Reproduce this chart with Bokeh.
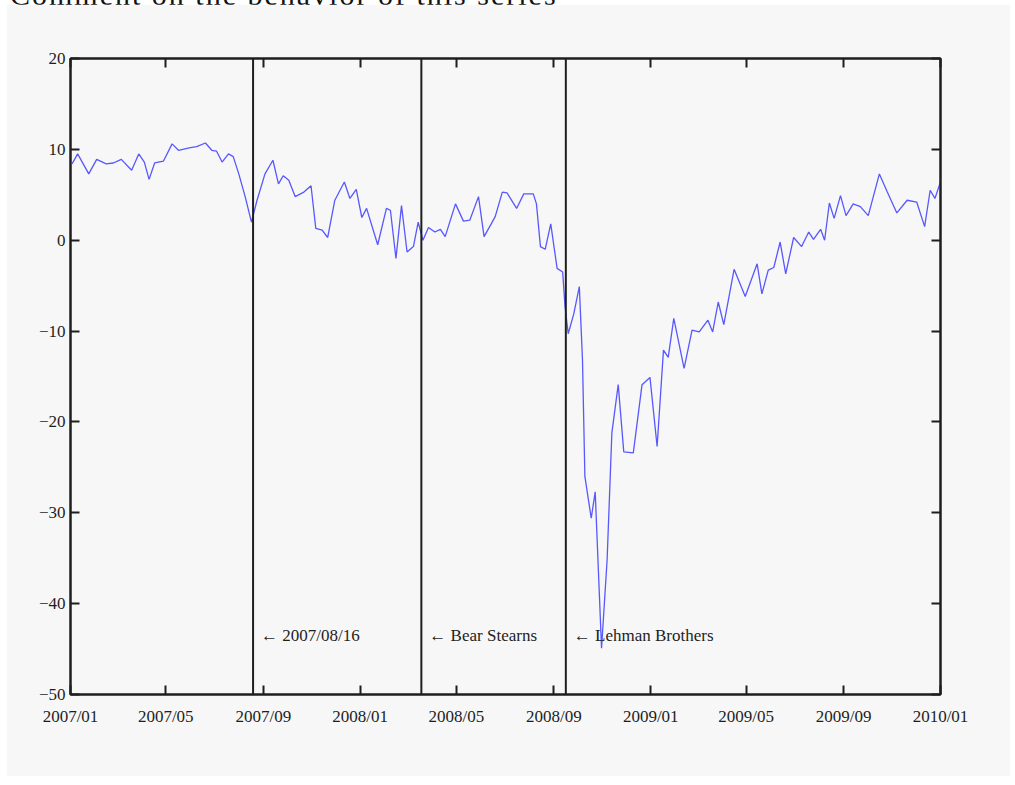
import pandas as pd
from bokeh.plotting import figure
from bokeh.models import (Range1d, FixedTicker, LinearAxis, DatetimeAxis, Span, Div,
                          ColumnDataSource, DatetimeTickFormatter)
from bokeh.layouts import column
from bokeh.core.properties import value
from bokeh.embed import file_html
from bokeh.resources import INLINE

# ---------------- data ----------------
dates = [
    "2007-01-03", "2007-01-10", "2007-01-24", "2007-02-03", "2007-02-15", "2007-02-24", "2007-03-06",
    "2007-03-19", "2007-03-28", "2007-04-04", "2007-04-10", "2007-04-17", "2007-04-28", "2007-05-09",
    "2007-05-17", "2007-06-01", "2007-06-09", "2007-06-20", "2007-06-28", "2007-07-04", "2007-07-11",
    "2007-07-19", "2007-07-25", "2007-08-01", "2007-08-09", "2007-08-17", "2007-08-24",
    "2007-09-03", "2007-09-13", "2007-09-20", "2007-09-26", "2007-10-03", "2007-10-11", "2007-10-22",
    "2007-10-31", "2007-11-06", "2007-11-14", "2007-11-21", "2007-11-30", "2007-12-12", "2007-12-19",
    "2007-12-27", "2008-01-03", "2008-01-09", "2008-01-23", "2008-02-03", "2008-02-08", "2008-02-15",
    "2008-02-22", "2008-02-29", "2008-03-08", "2008-03-14", "2008-03-20",
    "2008-03-27", "2008-04-04", "2008-04-11", "2008-04-17", "2008-04-30", "2008-05-10", "2008-05-18",
    "2008-05-29", "2008-06-05", "2008-06-14", "2008-06-19", "2008-06-28", "2008-07-04", "2008-07-16",
    "2008-07-25", "2008-08-06", "2008-08-10", "2008-08-15", "2008-08-21", "2008-08-28", "2008-09-05",
    "2008-09-12", "2008-09-15", "2008-09-19", "2008-09-26", "2008-10-03", "2008-10-07", "2008-10-10",
    "2008-10-18", "2008-10-23", "2008-10-31", "2008-11-07", "2008-11-13", "2008-11-21", "2008-11-28",
    "2008-12-10", "2008-12-21", "2008-12-31",
    "2009-01-09", "2009-01-17", "2009-01-23", "2009-01-30", "2009-02-12", "2009-02-22", "2009-03-03",
    "2009-03-14", "2009-03-20", "2009-03-27", "2009-04-03", "2009-04-16", "2009-04-30", "2009-05-15",
    "2009-05-21", "2009-05-29", "2009-06-05", "2009-06-13", "2009-06-20", "2009-06-30",
    "2009-07-10", "2009-07-19", "2009-07-25", "2009-08-03", "2009-08-08", "2009-08-14", "2009-08-20",
    "2009-08-28", "2009-09-04", "2009-09-13", "2009-09-22", "2009-10-02", "2009-10-16", "2009-10-26",
    "2009-11-07", "2009-11-20", "2009-12-02", "2009-12-12", "2009-12-19", "2009-12-25", "2010-01-01",
]
values = [
    8.4, 9.5, 7.3, 8.9, 8.4, 8.5, 8.9, 7.7, 9.5, 8.6, 6.7, 8.5, 8.7, 10.6, 9.9, 10.2, 10.3, 10.7, 9.9,
    9.8, 8.6, 9.5, 9.2, 7.3, 4.8, 2.0, 4.4,
    7.3, 8.8, 6.2, 7.1, 6.6, 4.8, 5.3, 6.0, 1.3, 1.1, 0.3, 4.4, 6.4, 4.6, 5.6,
    2.5, 3.5, -0.5, 3.5, 3.3, -2.0, 3.8, -1.3, -0.7, 2.0, 0.0,
    1.4, 0.9, 1.2, 0.4, 4.0, 2.1, 2.2, 4.8, 0.4, 1.8, 2.6, 5.3, 5.2, 3.5, 5.1, 5.1, 4.0, -0.7, -1.0,
    1.8, -3.1, -3.5, -7.3, -10.3, -8.1,
    -5.1, -13.2, -26.0, -30.6, -27.7, -44.9, -35.2, -21.2, -15.9, -23.3, -23.4, -15.9, -15.1,
    -22.7, -12.1, -12.9, -8.6, -14.1, -9.9, -10.1, -8.8, -10.1, -6.8, -9.3, -3.2, -6.2, -2.6, -5.9,
    -3.3, -3.0, -0.2, -3.7, 0.3,
    -0.7, 0.9, 0.1, 1.2, 0.0, 4.1, 2.4, 4.9, 2.7, 4.0, 3.7, 2.7, 7.3, 5.3, 3.0, 4.4, 4.2, 1.5, 5.5,
    4.6, 6.4,
]

event_dates = ["2007-08-19", "2008-03-18", "2008-09-16"]
event_labels = ["\u2190 2007/08/16", "\u2190 Bear Stearns", "\u2190 Lehman Brothers"]
event_label_y = [-43.5, -43.5, -43.5]

x_tick_labels = ["2007/01", "2007/05", "2007/09", "2008/01", "2008/05", "2008/09",
                 "2009/01", "2009/05", "2009/09", "2010/01"]
y_ticks = [-50, -40, -30, -20, -10, 0, 10, 20]
y_tick_labels = ["\u221250", "\u221240", "\u221230", "\u221220", "\u221210", "0", "10", "20"]

title_text = "Comment on the behavior of this series"

# ---------------- helpers ----------------
def to_ms(s):
    return int(pd.Timestamp(s).value // 10**6)

x_tick_ms = [to_ms(l.replace("/", "-") + "-01") for l in x_tick_labels]

src = ColumnDataSource(data=dict(x=pd.to_datetime(dates), y=values))
ev_src = ColumnDataSource(data=dict(x=pd.to_datetime(event_dates), y=event_label_y, t=event_labels))

SERIF = "Liberation Serif"
BG = "#f7f7f7"
INK = "#1e1e1e"

p = figure(width=1004, height=772, x_axis_type="datetime",
           x_range=Range1d(start=x_tick_ms[0], end=x_tick_ms[-1]),
           y_range=Range1d(start=-50, end=20),
           output_backend="svg", toolbar_location=None,
           min_border_left=64, min_border_right=70, min_border_top=54, min_border_bottom=82,
           background_fill_color=BG, border_fill_color=BG)
p.grid.visible = False
p.outline_line_color = INK
p.outline_line_width = 2

p.line("x", "y", source=src, line_color="#3c3cff", line_width=1.3, line_alpha=0.85)

for d in event_dates:
    p.add_layout(Span(location=to_ms(d), dimension="height", line_color=INK, line_width=2))

p.text("x", "y", text="t", source=ev_src, x_offset=8, text_baseline="middle", text_align="left",
       text_font=value(SERIF), text_font_size="17px", text_color=INK)

fmt = DatetimeTickFormatter(days="%Y/%m", months="%Y/%m", years="%Y/%m")

def style_axis(ax, labels=True):
    ax.axis_line_color = INK
    ax.axis_line_width = 2
    ax.major_tick_line_color = INK
    ax.major_tick_line_width = 2
    ax.major_tick_in = 9
    ax.major_tick_out = 0
    ax.minor_tick_line_color = None
    ax.major_label_text_font = SERIF
    ax.major_label_text_font_size = "17px" if labels else "0px"
    ax.major_label_text_color = INK if labels else None

xa = p.xaxis[0]
xa.ticker = FixedTicker(ticks=x_tick_ms)
xa.formatter = fmt
xa.major_label_overrides = dict(zip(x_tick_ms, x_tick_labels))
xa.major_label_standoff = 12
style_axis(xa)

ya = p.yaxis[0]
ya.ticker = FixedTicker(ticks=y_ticks)
ya.major_label_overrides = dict(zip(y_ticks, y_tick_labels))
ya.major_label_standoff = 5
style_axis(ya)

top = DatetimeAxis(ticker=FixedTicker(ticks=x_tick_ms), formatter=fmt)
style_axis(top, labels=False)
p.add_layout(top, "above")

right = LinearAxis(ticker=FixedTicker(ticks=y_ticks))
style_axis(right, labels=False)
p.add_layout(right, "right")

p.margin = (-5, 0, 0, 6)

div = Div(text='<span style="font-family: \'Liberation Serif\'; font-size: 30px; line-height: 28px; '
               'letter-spacing: 2px; white-space: nowrap; color: #111;">' + title_text + '</span>',
          width=999, height=28, margin=(-19, 0, 0, 10))

root = column(div, p)
open("out.html", "w").write(file_html(root, INLINE))
